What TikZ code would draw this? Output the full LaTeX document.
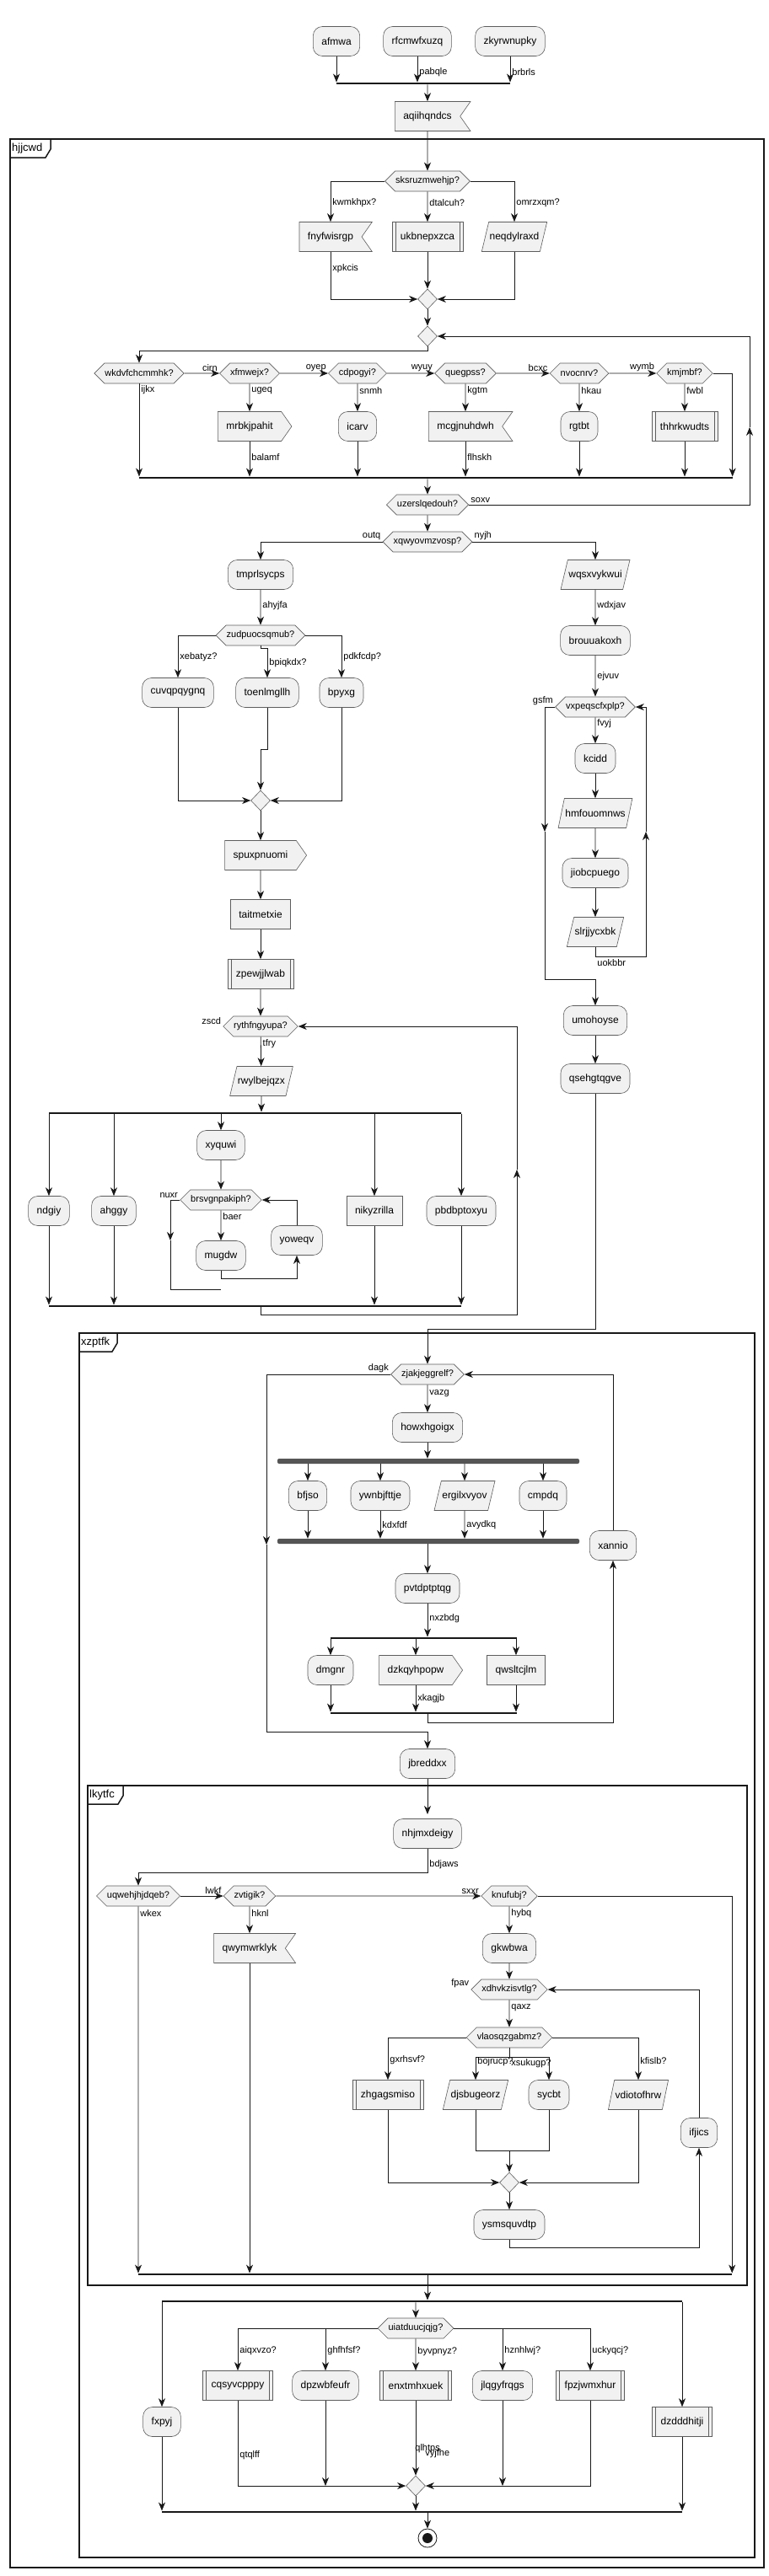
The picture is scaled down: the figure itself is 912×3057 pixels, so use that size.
\documentclass[tikz,border=0pt]{standalone}
\usepackage{fontspec}
\setmainfont{Liberation Sans}
\usetikzlibrary{shapes.geometric, shapes.symbols, arrows.meta}
\definecolor{actfill}{RGB}{241, 241, 241}
\definecolor{actline}{RGB}{24, 24, 24}
\definecolor{forkbar}{RGB}{85, 85, 85}

\begin{document}
\begin{tikzpicture}[
    x=1pt, y=-1pt,
    base/.style={draw=actline!70, fill=actfill, line width=0.6pt, font=\fontsize{12}{14}\selectfont, minimum height=35pt, inner xsep=10pt},
    act/.style={base, rounded corners=11pt},
    box/.style={base, rectangle},
    sub/.style={base, rectangle, path picture={\draw[actline!70, line width=0.6pt] ([xshift=4pt]path picture bounding box.north west) -- ([xshift=4pt]path picture bounding box.south west) ([xshift=-4pt]path picture bounding box.north east) -- ([xshift=-4pt]path picture bounding box.south east);}},
    io/.style={base, trapezium, trapezium left angle=65, trapezium right angle=115, trapezium stretches=true, inner xsep=1pt},
    send/.style={base, signal, signal to=east, signal from=nowhere, signal pointer angle=110},
    recv/.style={base, signal, signal to=nowhere, signal from=east, signal pointer angle=110},
    cond/.style={base, signal, signal to=east and west, signal pointer angle=90, minimum height=24pt, inner xsep=0.5pt, font=\fontsize{11}{13}\selectfont},
    merge/.style={draw=actline!70, fill=actfill, line width=0.6pt, diamond, minimum width=23pt, minimum height=24pt, inner sep=0pt},
    bar/.style={fill=actline, minimum height=2.5pt, inner sep=0pt},
    fbar/.style={fill=forkbar, minimum height=6pt, inner sep=0pt, rounded corners=2pt},
    lbl/.style={font=\fontsize{11}{13}\selectfont, inner sep=2pt},
    link/.style={-{Stealth[length=10pt, width=8pt, inset=3pt]}, draw=actline, line width=0.8pt},
    line/.style={draw=actline, line width=0.8pt},
    frame/.style={draw=actline, line width=1.5pt},
    tab/.style={font=\fontsize{13}{15}\selectfont, anchor=west, inner sep=2pt},
    stopnode/.style={circle, draw=actline, line width=0.8pt, fill=white, minimum size=22pt, inner sep=0pt, path picture={\fill[actline] (path picture bounding box.center) circle (6pt);}}
]
    \useasboundingbox (0,0) rectangle (912,3057);

    % Start
    \node[act] (afmwa) at (399,49) {afmwa};
    \node[act] (rfcm) at (495,49) {rfcmwfxuzq};
    \node[act] (zkyr) at (605,49) {zkyrwnupky};
    \node[bar, minimum width=206pt] (j1) at (502,99) {};
    \node[recv] (aqii) at (507,138) {aqiihqndcs};

    % Frame hjjcwd
    \draw[frame] (12,165) rectangle (906,3047);
    \draw[frame] (12,187) -- (54,187) -- (60,177) -- (60,165);
    \node[tab] (hjjcwd) at (12,176) {hjjcwd};

    % First decision
    \node[cond] (sksr) at (507,215) {sksruzmwehjp?};
    \node[recv] (fnyf) at (392,281) {fnyfwisrgp};
    \node[sub] (ukbn) at (507,281) {ukbnepxzca};
    \node[io] (neqd) at (610,281) {neqdylraxd};
    \node[merge] (m1) at (507,355) {};
    \node[merge] (m2) at (507,399) {};

    % Row of tests
    \node[cond] (wkdv) at (165,443) {wkdvfchcmmhk?};
    \node[cond] (xfmw) at (296,443) {xfmwejx?};
    \node[cond] (cdpo) at (424,443) {cdpogyi?};
    \node[cond] (queg) at (552,443) {quegpss?};
    \node[cond] (nvoc) at (687,443) {nvocnrv?};
    \node[cond] (kmjm) at (812,443) {kmjmbf?};
    \node[send] (mrbk) at (296,506) {mrbkjpahit};
    \node[act] (icarv) at (424,506) {icarv};
    \node[recv] (mcgj) at (552,506) {mcgjnuhdwh};
    \node[act] (rgtbt) at (687,506) {rgtbt};
    \node[sub] (thhr) at (812,506) {thhrkwudts};
    \node[bar, minimum width=704pt] (j2) at (516.5,567) {};
    \node[cond] (uzer) at (507,599) {uzerslqedouh?};
    \node[cond] (xqwy) at (507,643) {xqwyovmzvosp?};
    \coordinate (soxvup) at (889,507);

    % Left branch
    \node[act] (tmpr) at (309,682) {tmprlsycps};
    \node[cond] (zudp) at (309,754) {zudpuocsqmub?};
    \node[act] (cuvq) at (211,822) {cuvqpqygnq};
    \node[act] (toen) at (317,822) {toenlmgllh};
    \node[act] (bpyxg) at (405,822) {bpyxg};
    \node[merge] (m3) at (309,950) {};
    \node[send] (spux) at (309,1015) {spuxpnuomi};
    \node[box] (tait) at (309,1085) {taitmetxie};
    \node[sub] (zpew) at (309,1156) {zpewjjlwab};
    \node[cond] (ryth) at (309,1218) {rythfngyupa?};
    \node[io] (rwyl) at (310,1283) {rwylbejqzx};
    \node[bar, minimum width=489pt] (f1) at (302.5,1321) {};
    \node[act] (xyquwi) at (262,1359) {xyquwi};
    \node[act] (ndgiy) at (58,1437) {ndgiy};
    \node[act] (ahggy) at (135,1437) {ahggy};
    \node[box] (niky) at (444,1437) {nikyzrilla};
    \node[act] (pbdb) at (547,1437) {pbdbptoxyu};
    \node[cond] (brsv) at (262,1424) {brsvgnpakiph?};
    \node[act] (mugdw) at (262,1490) {mugdw};
    \node[act] (yoweqv) at (352,1472) {yoweqv};
    \node[bar, minimum width=489pt] (f2) at (302.5,1550) {};
    \coordinate (nuxrdn) at (202,1472);
    \coordinate (nuxrend) at (262,1530);
    \coordinate (zscdup) at (613,1388);

    % Right branch
    \node[io] (wqsx) at (706,682) {wqsxvykwui};
    \node[act] (brou) at (706,760) {brouuakoxh};
    \node[cond] (vxpe) at (706,839) {vxpeqscfxplp?};
    \node[act] (kcidd) at (706,900) {kcidd};
    \node[io] (hmfo) at (706,965) {hmfouomnws};
    \node[act] (jiob) at (706,1036) {jiobcpuego};
    \node[io] (slrj) at (706,1106) {slrjjycxbk};
    \node[act] (umoh) at (706,1211) {umohoyse};
    \node[act] (qseh) at (706,1280) {qsehgtqgve};
    \coordinate (gsfmdn) at (646,987);
    \coordinate (uokbup) at (766,987);

    % Connections
    \draw[link] (afmwa) -- (afmwa |- j1.north);
    \draw[link] (rfcm) -- (rfcm |- j1.north) node[lbl, right, pos=0.6] {pabqle};
    \draw[link] (zkyr) -- (zkyr |- j1.north) node[lbl, right, pos=0.6] {brbrls};
    \draw[link] (aqii |- j1.south) -- (aqii);
    \draw[link] (aqii) -- (sksr);

    \draw[link] (sksr.west) -| (fnyf.north) node[lbl, right, pos=0.77] {kwmkhpx?};
    \draw[link] (sksr) -- (ukbn) node[lbl, right, pos=0.38] {dtalcuh?};
    \draw[link] (sksr.east) -| (neqd.north) node[lbl, right, pos=0.77] {omrzxqm?};
    \draw[link] (fnyf.south) |- (m1.west) node[lbl, right, pos=0.18] {xpkcis};
    \draw[link] (ukbn) -- (m1);
    \draw[link] (neqd.south) |- (m1.east);
    \draw[link] (m1) -- (m2);
    \draw[link] (m2.south) -- ++(0,5) -| (wkdv.north);

    \draw[link] (wkdv) -- (xfmw) node[lbl, pos=1, anchor=south east] {cirn};
    \draw[link] (xfmw) -- (cdpo) node[lbl, pos=1, anchor=south east] {oyep};
    \draw[link] (cdpo) -- (queg) node[lbl, pos=1, anchor=south east] {wyuy};
    \draw[link] (queg) -- (nvoc) node[lbl, pos=1, anchor=south east] {bcxc};
    \draw[link] (nvoc) -- (kmjm) node[lbl, pos=1, anchor=south east] {wymb};
    \draw[link] (wkdv.south) -- (wkdv.south |- j2.north) node[lbl, right, pos=0.07] {ijkx};
    \draw[link] (xfmw) -- (xfmw.south |- mrbk.north) node[lbl, right, pos=0.25] {ugeq};
    \draw[link] (cdpo) -- (icarv) node[lbl, right, pos=0.25] {snmh};
    \draw[link] (queg) -- (queg.south |- mcgj.north) node[lbl, right, pos=0.25] {kgtm};
    \draw[link] (nvoc) -- (rgtbt) node[lbl, right, pos=0.25] {hkau};
    \draw[link] (kmjm) -- (thhr) node[lbl, right, pos=0.25] {fwbl};
    \draw[link] (mrbk.south) -- (mrbk.south |- j2.north) node[lbl, right, pos=0.45] {balamf};
    \draw[link] (icarv) -- (icarv |- j2.north);
    \draw[link] (mcgj.south) -- (mcgj.south |- j2.north) node[lbl, right, pos=0.45] {flhskh};
    \draw[link] (rgtbt) -- (rgtbt |- j2.north);
    \draw[link] (thhr) -- (thhr |- j2.north);
    \draw[link] (kmjm.east) -| (j2.north east);
    \draw[link] (uzer |- j2.south) -- (uzer);
    \draw[link] (uzer.east) -| (soxvup) node[lbl, pos=0, anchor=south west] {soxv};
    \draw[link] (soxvup) |- (m2.east);
    \draw[link] (uzer) -- (xqwy);
    \draw[link] (xqwy.west) -| (tmpr.north) node[lbl, pos=0, anchor=south east] {outq};
    \draw[link] (xqwy.east) -| (wqsx.north) node[lbl, pos=0, anchor=south west] {nyjh};

    \draw[link] (tmpr) -- (zudp) node[lbl, right, pos=0.45] {ahyjfa};
    \draw[link] (zudp.west) -| (cuvq.north) node[lbl, right, pos=0.76] {xebatyz?};
    \draw[link] (zudp.south) -- ++(0,3) -| (toen.north) node[lbl, right, pos=0.75] {bpiqkdx?};
    \draw[link] (zudp.east) -| (bpyxg.north) node[lbl, right, pos=0.76] {pdkfcdp?};
    \draw[link] (cuvq.south) |- (m3.west);
    \draw[link] (toen.south) -- ++(0,50) -| (m3.north);
    \draw[link] (bpyxg.south) |- (m3.east);
    \draw[link] (m3) -- (spux);
    \draw[link] (spux) -- (tait);
    \draw[link] (tait) -- (zpew);
    \draw[link] (zpew) -- (ryth);
    \node[lbl, anchor=south east] (zscd) at (ryth.west) {zscd};
    \draw[link] (ryth) -- (rwyl) node[lbl, right, pos=0.25] {tfry};
    \draw[link] (rwyl) -- (rwyl |- f1.north);
    \draw[link] (ndgiy |- f1.south) -- (ndgiy);
    \draw[link] (ahggy |- f1.south) -- (ahggy);
    \draw[link] (xyquwi |- f1.south) -- (xyquwi);
    \draw[link] (niky |- f1.south) -- (niky);
    \draw[link] (pbdb |- f1.south) -- (pbdb);
    \draw[link] (xyquwi) -- (brsv);
    \draw[link] (brsv.west) -| (nuxrdn) node[lbl, pos=0, anchor=south east] {nuxr};
    \draw[line] (nuxrdn) |- (nuxrend);
    \draw[link] (brsv) -- (mugdw) node[lbl, right, pos=0.2] {baer};
    \draw[link] (mugdw.south) -- ++(0,10) -| (yoweqv.south);
    \draw[link] (yoweqv.north) |- (brsv.east);
    \draw[link] (ndgiy) -- (ndgiy |- f2.north);
    \draw[link] (ahggy) -- (ahggy |- f2.north);
    \draw[link] (niky) -- (niky |- f2.north);
    \draw[link] (pbdb) -- (pbdb |- f2.north);
    \draw[link] (ryth |- f2.south) -- ++(0,9) -| (zscdup);
    \draw[link] (zscdup) |- (ryth.east);

    \draw[link] (wqsx) -- (brou) node[lbl, right, pos=0.45] {wdxjav};
    \draw[link] (brou) -- (vxpe) node[lbl, right, pos=0.5] {ejvuv};
    \draw[link] (vxpe.west) -| (gsfmdn) node[lbl, pos=0, anchor=south east] {gsfm};
    \draw[link] (gsfmdn) -- ++(0,175) -| (umoh.north);
    \draw[link] (vxpe) -- (kcidd) node[lbl, right, pos=0.25] {fvyj};
    \draw[link] (kcidd) -- (hmfo);
    \draw[link] (hmfo) -- (jiob);
    \draw[link] (jiob) -- (slrj);
    \draw[link] (slrj.south) -- ++(0,12) node[lbl, anchor=north west, pos=1] {uokbbr} -| (uokbup);
    \draw[link] (uokbup) |- (vxpe.east);
    \draw[link] (umoh) -- (qseh);

    % Frame xzptfk
    \draw[frame] (94,1582) rectangle (895,3035);
    \draw[frame] (94,1604) -- (133,1604) -- (139,1594) -- (139,1582);
    \node[tab] (xzptfk) at (94,1593) {xzptfk};

    \node[cond] (zjak) at (507,1631) {zjakjeggrelf?};
    \node[act] (howx) at (507,1694) {howxhgoigx};
    \node[fbar, minimum width=358pt] (f3) at (508,1734) {};
    \node[act] (bfjso) at (365,1775) {bfjso};
    \node[act] (ywnb) at (451,1775) {ywnbjfttje};
    \node[io] (ergi) at (551,1775) {ergilxvyov};
    \node[act] (cmpdq) at (644,1775) {cmpdq};
    \node[fbar, minimum width=358pt] (f4) at (508,1829) {};
    \node[act] (xannio) at (727,1834) {xannio};
    \node[act] (pvtd) at (507,1885) {pvtdptptqg};
    \node[bar, minimum width=221pt] (f5) at (502.5,1944) {};
    \node[act] (dmgnr) at (392,1982) {dmgnr};
    \node[send] (dzkq) at (493,1982) {dzkqyhpopw};
    \node[box] (qwsl) at (612,1982) {qwsltcjlm};
    \node[bar, minimum width=221pt] (f6) at (502.5,2033) {};
    \node[act] (jbre) at (507,2093) {jbreddxx};
    \coordinate (dagkdn) at (316,1833);

    \draw[link] (qseh.south) -- ++(0,280) -| (zjak.north);
    \draw[link] (zjak.west) -| (dagkdn) node[lbl, pos=0, anchor=south east] {dagk};
    \draw[link] (dagkdn) -- ++(0,222) -| (jbre.north);
    \draw[link] (zjak) -- (howx) node[lbl, right, pos=0.3] {vazg};
    \draw[link] (howx) -- (howx |- f3.north);
    \draw[link] (bfjso |- f3.south) -- (bfjso);
    \draw[link] (ywnb |- f3.south) -- (ywnb);
    \draw[link] (ergi |- f3.south) -- (ergi);
    \draw[link] (cmpdq |- f3.south) -- (cmpdq);
    \draw[link] (bfjso) -- (bfjso |- f4.north);
    \draw[link] (ywnb) -- (ywnb |- f4.north) node[lbl, right, pos=0.5] {kdxfdf};
    \draw[link] (ergi) -- (ergi |- f4.north) node[lbl, right, pos=0.5] {avydkq};
    \draw[link] (cmpdq) -- (cmpdq |- f4.north);
    \draw[link] (pvtd |- f4.south) -- (pvtd);
    \draw[link] (pvtd) -- (pvtd |- f5.north) node[lbl, right, pos=0.45] {nxzbdg};
    \draw[link] (dmgnr |- f5.south) -- (dmgnr);
    \draw[link] (dzkq.north |- f5.south) -- (dzkq.north);
    \draw[link] (qwsl |- f5.south) -- (qwsl);
    \draw[link] (dmgnr) -- (dmgnr |- f6.north);
    \draw[link] (dzkq.south) -- (dzkq.south |- f6.north) node[lbl, right, pos=0.5] {xkagjb};
    \draw[link] (qwsl) -- (qwsl |- f6.north);
    \draw[link] (pvtd |- f6.south) -- ++(0,10) -| (xannio.south);
    \draw[link] (xannio.north) |- (zjak.east);
    \draw[link] (jbre) -- ++(0,60);

    % Frame lkytfc
    \draw[frame] (104,2119) rectangle (886,2712);
    \draw[frame] (104,2141) -- (140,2141) -- (146,2131) -- (146,2119);
    \node[tab] (lkytfc) at (104,2130) {lkytfc};

    \node[act] (nhjm) at (507,2176) {nhjmxdeigy};
    \node[cond] (uqwe) at (164,2250) {uqwehjhjdqeb?};
    \node[cond] (zvti) at (296,2250) {zvtigik?};
    \node[cond] (knuf) at (604,2250) {knufubj?};
    \node[recv] (qwym) at (296,2312) {qwymwrklyk};
    \node[act] (gkwb) at (604,2312) {gkwbwa};
    \node[cond] (xdhv) at (604,2361) {xdhvkzisvtlg?};
    \node[cond] (vlao) at (604,2418) {vlaosqzgabmz?};
    \node[sub] (zhga) at (460,2486) {zhgagsmiso};
    \node[io] (djsb) at (564,2486) {djsbugeorz};
    \node[act] (sycbt) at (651,2486) {sycbt};
    \node[io] (vdio) at (757,2486) {vdiotofhrw};
    \node[merge] (m4) at (604,2590) {};
    \node[act] (ysms) at (604,2640) {ysmsquvdtp};
    \node[act] (ifjics) at (829,2531) {ifjics};
    \node[bar, minimum width=704pt] (j3) at (516,2699) {};
    \coordinate (djmeet) at (604,2552);

    \draw[link] (nhjm.south) -- ++(0,29) node[lbl, right, pos=0.65] {bdjaws} -| (uqwe.north);
    \draw[link] (uqwe) -- (zvti) node[lbl, pos=1, anchor=south east] {lwkf};
    \draw[link] (zvti) -- (knuf) node[lbl, pos=1, anchor=south east] {sxxr};
    \draw[link] (uqwe) -- (uqwe |- j3.north) node[lbl, right, pos=0.02] {wkex};
    \draw[link] (zvti) -- (zvti |- qwym.north) node[lbl, right, pos=0.25] {hknl};
    \draw[link] (qwym.south) -- (qwym.south |- j3.north);
    \draw[link] (knuf.east) -| (j3.north east);
    \draw[link] (knuf) -- (gkwb) node[lbl, right, pos=0.25] {hybq};
    \draw[link] (gkwb) -- (xdhv);
    \node[lbl, anchor=south east] (fpav) at (xdhv.west) {fpav};
    \draw[link] (xdhv) -- (vlao) node[lbl, right, pos=0.3] {qaxz};
    \draw[link] (vlao.west) -| (zhga.north) node[lbl, right, pos=0.77] {gxrhsvf?};
    \draw[link] (vlao.south) -- ++(0,11) -| (djsb.north) node[lbl, right, pos=0.6] {bojrucp?};
    \draw[link] (vlao.south) -- ++(0,11) node[lbl, anchor=north west, pos=1] {xsukugp?} -| (sycbt.north);
    \draw[link] (vlao.east) -| (vdio.north) node[lbl, right, pos=0.77] {kfislb?};
    \draw[link] (zhga.south) |- (m4.west);
    \draw[line] (djsb.south) |- (djmeet);
    \draw[line] (sycbt.south) |- (djmeet);
    \draw[link] (djmeet) -- (m4.north);
    \draw[link] (vdio.south) |- (m4.east);
    \draw[link] (m4) -- (ysms);
    \draw[link] (ysms.south) -- ++(0,10) -| (ifjics.south);
    \draw[link] (ifjics.north) |- (xdhv.east);

    % Last fork
    \node[bar, minimum width=617pt] (f7) at (500.5,2731) {};
    \node[cond] (uiat) at (493,2763) {uiatduucjqjg?};
    \node[sub] (cqsy) at (282,2831) {cqsyvcpppy};
    \node[act] (dpzw) at (386,2831) {dpzwbfeufr};
    \node[sub] (enxt) at (493,2831) {enxtmhxuek};
    \node[act] (jlqg) at (596,2831) {jlqgyfrqgs};
    \node[sub] (fpzj) at (700,2831) {fpzjwmxhur};
    \node[merge] (m5) at (493,2950) {};
    \node[act] (fxpyj) at (192,2874) {fxpyj};
    \node[sub] (dzdd) at (809,2874) {dzdddhitji};
    \node[bar, minimum width=617pt] (j4) at (500.5,2981) {};
    \node[stopnode] (stop) at (507,3012) {};

    \draw[link] (nhjm |- j3.south) -- (nhjm |- f7.north);
    \draw[link] (fxpyj |- f7.south) -- (fxpyj);
    \draw[link] (uiat |- f7.south) -- (uiat);
    \draw[link] (dzdd |- f7.south) -- (dzdd);
    \draw[link] (uiat.west) -| (cqsy.north) node[lbl, right, pos=0.77] {aiqxvzo?};
    \draw[link] (uiat.west) -| (dpzw.north) node[lbl, right, pos=0.77] {ghfhfsf?};
    \draw[link] (uiat) -- (enxt) node[lbl, right, pos=0.4] {byvpnyz?};
    \draw[link] (uiat.east) -| (jlqg.north) node[lbl, right, pos=0.77] {hznhlwj?};
    \draw[link] (uiat.east) -| (fpzj.north) node[lbl, right, pos=0.77] {uckyqcj?};
    \draw[link] (cqsy.south) |- (m5.west) node[lbl, right, pos=0.32] {qtqlff};
    \draw[link] (dpzw) -- (dpzw |- m5);
    \draw[link] (enxt) -- (m5) node[lbl, anchor=west, pos=0.64, xshift=-3pt] {qlhtps} node[lbl, anchor=west, pos=0.71, xshift=9pt] {vyjfhe};
    \draw[link] (jlqg) -- (jlqg |- m5);
    \draw[link] (fpzj.south) |- (m5.east);
    \draw[link] (m5) -- (m5 |- j4.north);
    \draw[link] (fxpyj) -- (fxpyj |- j4.north);
    \draw[link] (dzdd) -- (dzdd |- j4.north);
    \draw[link] (stop |- j4.south) -- (stop);

\end{tikzpicture}
\end{document}
